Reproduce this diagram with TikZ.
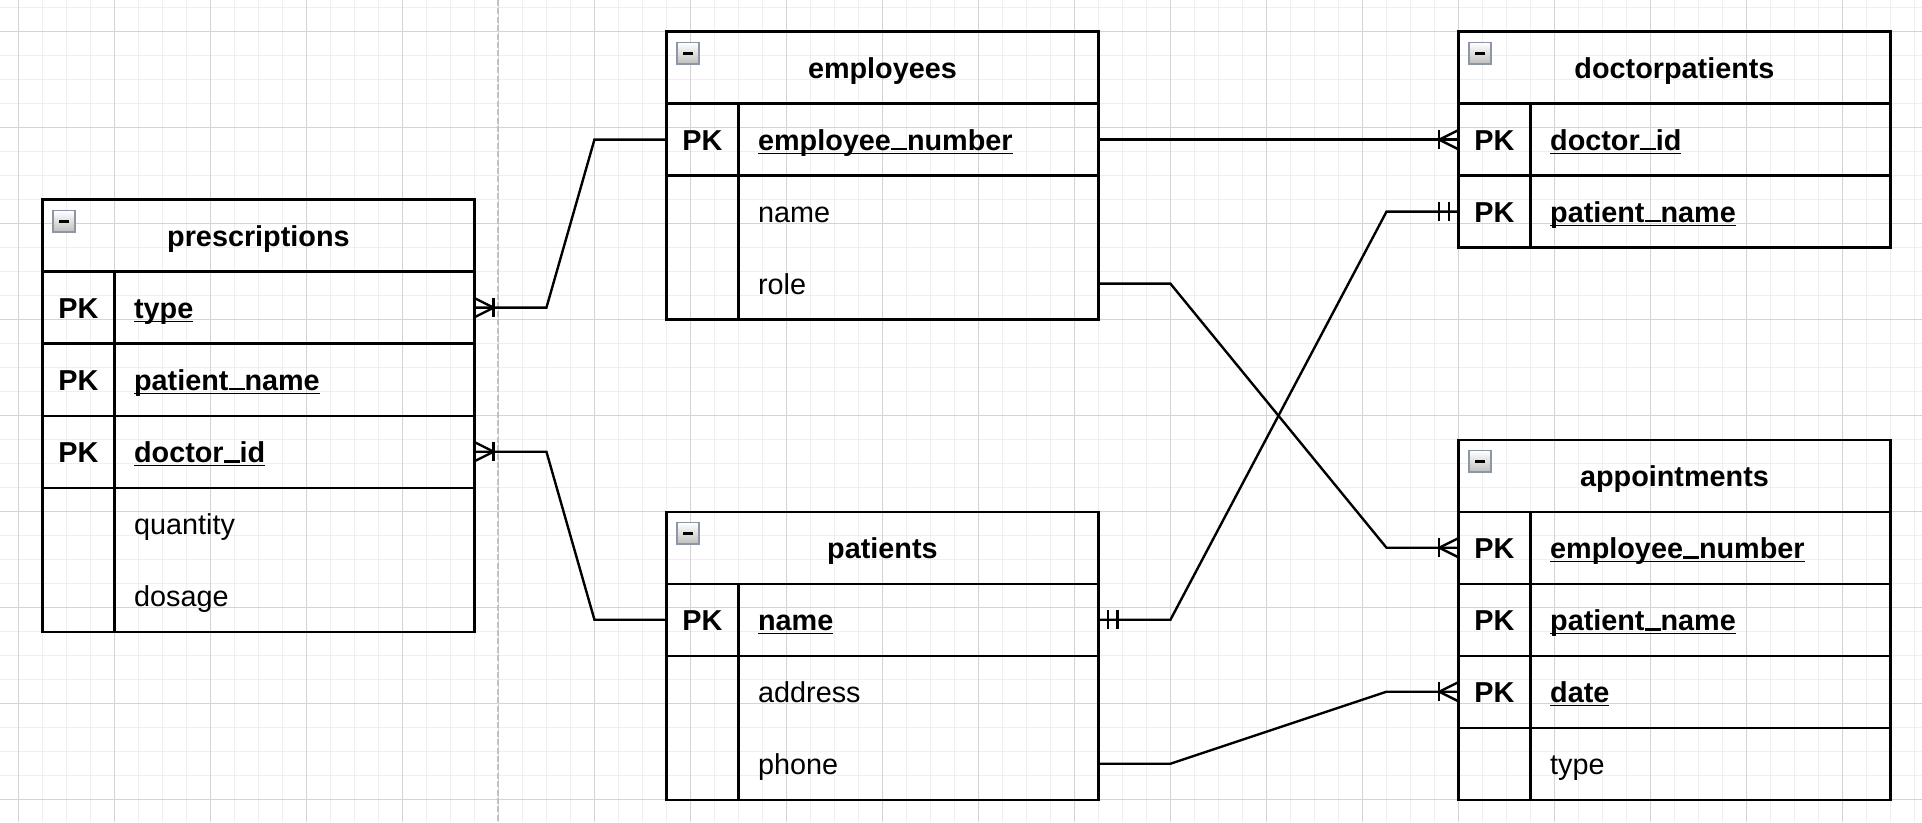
\documentclass[tikz,border=0pt]{standalone}
\usepackage{fontspec}
\setmainfont{Liberation Sans}
\usetikzlibrary{calc,fit}
\definecolor{gridminor}{HTML}{EFEFEF}
\definecolor{gridmajor}{HTML}{D4D4D4}
\definecolor{pagebreak}{HTML}{C2C2C2}
\definecolor{iconborder}{HTML}{8E95A4}
\newcommand\erfont{\fontsize{12}{14.4}\selectfont}
\newcommand\myul[1]{\setbox0\hbox{#1}\rlap{\rule[-1.7pt]{\wd0}{0.6pt}}\box0}
\newcommand\erus{\rule[-0.1pt]{6.67pt}{1.1pt}}
\tikzset{
  hdr/.style={draw, line width=1pt, anchor=north west, minimum width=180pt, minimum height=30pt, inner sep=0pt, outer sep=0pt},
  rowbox/.style={anchor=north west, minimum width=180pt, minimum height=30pt, inner sep=0pt, outer sep=0pt},
  framed/.style={draw, line width=1pt},
  titletext/.style={anchor=base, font=\erfont\bfseries, inner sep=0pt},
  keytext/.style={anchor=base, font=\erfont\bfseries, inner sep=0pt},
  fieldtext/.style={anchor=base west, font=\erfont, inner sep=0pt},
  pkfield/.style={anchor=base west, font=\erfont\bfseries, inner sep=0pt},
  rel/.style={line width=1pt, line join=miter},
  collapse/.pic={
    \shade[top color=white, bottom color=black!25, draw=iconborder, line width=0.7pt] (0,0) rectangle (9,9);
    \fill[black] (2.3,4) rectangle (6.7,5.1);
  },
  crowmany/.pic={
    \draw[line width=1pt] (0,-4) -- (8,0) -- (0,4);
    \draw[line width=1pt] (8,-4) -- (8,4);
  },
  mandone/.pic={
    \draw[line width=1pt] (4,-4) -- (4,4);
    \draw[line width=1pt] (8,-4) -- (8,4);
  }
}
\newcommand\ertitle[4]{%
  \node[hdr] (#1) at (#2,#3) {};
  \node[titletext] (#1-t) at ($(#1.center)+(0,4.5)$) {#4};
  \pic at ($(#1.north west)+(4.5,4.5)$) {collapse};
}
\newcommand\erpk[4]{%
  \node[rowbox,framed] (#1) at (#2,#3) {};
  \node[keytext] (#1-k) at ($(#1.west)+(15,4.4)$) {PK};
  \node[pkfield] (#1-n) at ($(#1.west)+(38,4.4)$) {\myul{#4}};
}
\newcommand\erfield[4]{%
  \node[rowbox] (#1) at (#2,#3) {};
  \node[fieldtext] (#1-n) at ($(#1.west)+(38,4.4)$) {#4};
}
\begin{document}
\begin{tikzpicture}[x=1pt,y=-1pt]
\useasboundingbox (-7.67,-13.2) rectangle (793.13,329.3);
\fill[white] (-7.67,-13.2) rectangle (793.13,329.3);
% grid
\foreach \i in {0,10,...,790} \draw[gridminor, line width=0.45pt] (\i,-13.2) -- (\i,329.3);
\foreach \j in {-10,0,...,320} \draw[gridminor, line width=0.45pt] (-7.67,\j) -- (793.13,\j);
\foreach \i in {0,40,...,760} \draw[gridmajor, line width=0.45pt] (\i,-13.2) -- (\i,329.3);
\foreach \j in {0,40,...,320} \draw[gridmajor, line width=0.45pt] (-7.67,\j) -- (793.13,\j);
% page break
\draw[pagebreak, line width=0.8pt, dash pattern=on 2.5pt off 1pt] (200,-13.2) -- (200,329.3);

% prescriptions
\ertitle{pt}{10}{70}{prescriptions}
\erpk{pt-type}{10}{100}{type}
\erpk{pt-pat}{10}{130}{patient\erus name}
\erpk{pt-doc}{10}{160}{doctor\erus id}
\erfield{pt-qty}{10}{190}{quantity}
\erfield{pt-dos}{10}{220}{dosage}
\node[framed, fit=(pt-qty)(pt-dos), inner sep=0pt, outer sep=0pt] (pt-body) {};
\draw[framed] ($(pt-type.north west)+(30,0)$) -- ($(pt-dos.south west)+(30,0)$);

% employees
\ertitle{em}{270}{0}{employees}
\erpk{em-num}{270}{30}{employee\erus number}
\erfield{em-name}{270}{60}{name}
\erfield{em-role}{270}{90}{role}
\node[framed, fit=(em-name)(em-role), inner sep=0pt, outer sep=0pt] (em-body) {};
\draw[framed] ($(em-num.north west)+(30,0)$) -- ($(em-role.south west)+(30,0)$);

% doctorpatients
\ertitle{dp}{600}{0}{doctorpatients}
\erpk{dp-doc}{600}{30}{doctor\erus id}
\erpk{dp-pat}{600}{60}{patient\erus name}
\draw[framed] ($(dp-doc.north west)+(30,0)$) -- ($(dp-pat.south west)+(30,0)$);

% patients
\ertitle{pa}{270}{200}{patients}
\erpk{pa-name}{270}{230}{name}
\erfield{pa-addr}{270}{260}{address}
\erfield{pa-phone}{270}{290}{phone}
\node[framed, fit=(pa-addr)(pa-phone), inner sep=0pt, outer sep=0pt] (pa-body) {};
\draw[framed] ($(pa-name.north west)+(30,0)$) -- ($(pa-phone.south west)+(30,0)$);

% appointments
\ertitle{ap}{600}{170}{appointments}
\erpk{ap-emp}{600}{200}{employee\erus number}
\erpk{ap-pat}{600}{230}{patient\erus name}
\erpk{ap-date}{600}{260}{date}
\erfield{ap-type}{600}{290}{type}
\node[framed, fit=(ap-type), inner sep=0pt, outer sep=0pt] (ap-body) {};
\draw[framed] ($(ap-emp.north west)+(30,0)$) -- ($(ap-type.south west)+(30,0)$);

% relations
\draw[rel] (pt-type.east) -- ++(30,0) -- ($(em-num.west)+(-30,0)$) -- (em-num.west);
\pic at (pt-type.east) {crowmany};
\draw[rel] (pt-doc.east) -- ++(30,0) -- ($(pa-name.west)+(-30,0)$) -- (pa-name.west);
\pic at (pt-doc.east) {crowmany};
\draw[rel] (em-num.east) -- (dp-doc.west);
\pic[xscale=-1] at (dp-doc.west) {crowmany};
\draw[rel] (em-role.east) -- ++(30,0) -- ($(ap-emp.west)+(-30,0)$) -- (ap-emp.west);
\pic[xscale=-1] at (ap-emp.west) {crowmany};
\draw[rel] (pa-name.east) -- ++(30,0) -- ($(dp-pat.west)+(-30,0)$) -- (dp-pat.west);
\pic at (pa-name.east) {mandone};
\pic[xscale=-1] at (dp-pat.west) {mandone};
\draw[rel] (pa-phone.east) -- ++(30,0) -- ($(ap-date.west)+(-30,0)$) -- (ap-date.west);
\pic[xscale=-1] at (ap-date.west) {crowmany};
\end{tikzpicture}
\end{document}
